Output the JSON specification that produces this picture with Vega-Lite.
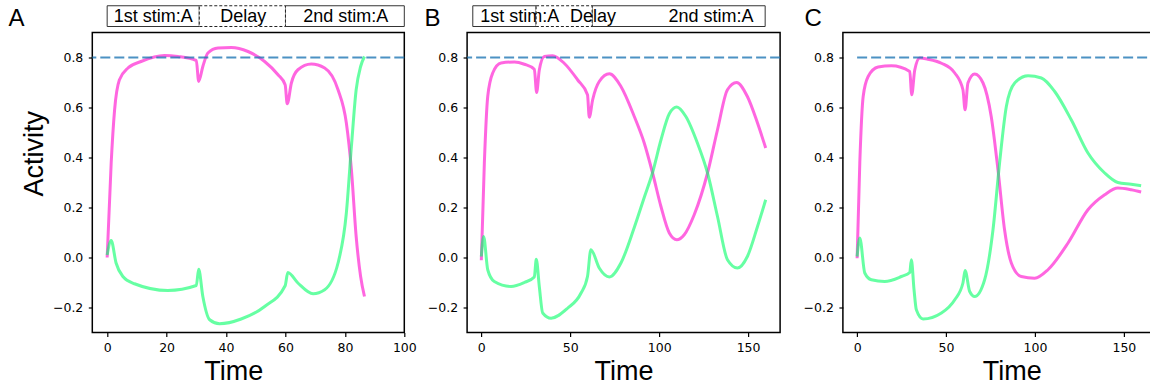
{
  "$schema": "https://vega.github.io/schema/vega-lite/v6.json",
  "padding": {"left": 7.3, "top": 4.5, "right": 0, "bottom": 0},
  "bounds": "flush",
  "spacing": 62.8,
  "config": {
    "view": {"stroke": "black", "strokeWidth": 1.5},
    "axis": {
      "grid": false, "domain": false, "tickColor": "black", "tickSize": 4, "tickWidth": 1.2,
      "labelFont": "DejaVu Sans", "labelFontSize": 12.5, "labelColor": "black", "labelPadding": 5.5,
      "labelFlush": false, "labelOverlap": false,
      "titleFont": "Liberation Sans", "titleFontSize": 27, "titleFontWeight": "normal", "titleColor": "black", "titlePadding": 4
    },
    "title": {"anchor": "start", "frame": "group", "baseline": "alphabetic", "fontSize": 24, "font": "Liberation Sans", "fontWeight": "normal", "color": "black"}
  },
  "datasets": {
    "threshold": [{"level": 0.8, "from": 0, "to": 168}],
    "A": [
      {"unit": "u1", "t": 0, "v": 0.0}, {"unit": "u1", "t": 1.35, "v": 0.377}, {"unit": "u1", "t": 2.5, "v": 0.59}, {"unit": "u1", "t": 4.1, "v": 0.71}, {"unit": "u1", "t": 7, "v": 0.758}, {"unit": "u1", "t": 11.4, "v": 0.784}, {"unit": "u1", "t": 19.3, "v": 0.808}, {"unit": "u1", "t": 23.8, "v": 0.804}, {"unit": "u1", "t": 30, "v": 0.788}, {"unit": "u1", "t": 30.8, "v": 0.704}, {"unit": "u1", "t": 32.2, "v": 0.764}, {"unit": "u1", "t": 33.9, "v": 0.818}, {"unit": "u1", "t": 37.3, "v": 0.838}, {"unit": "u1", "t": 41.8, "v": 0.84}, {"unit": "u1", "t": 47.4, "v": 0.824}, {"unit": "u1", "t": 53, "v": 0.784}, {"unit": "u1", "t": 57.5, "v": 0.731}, {"unit": "u1", "t": 59.9, "v": 0.691}, {"unit": "u1", "t": 60.6, "v": 0.615}, {"unit": "u1", "t": 62, "v": 0.698}, {"unit": "u1", "t": 64.2, "v": 0.751}, {"unit": "u1", "t": 68.7, "v": 0.774}, {"unit": "u1", "t": 73.2, "v": 0.758}, {"unit": "u1", "t": 77.7, "v": 0.671}, {"unit": "u1", "t": 80.5, "v": 0.538}, {"unit": "u1", "t": 82.2, "v": 0.351}, {"unit": "u1", "t": 83.8, "v": 0.084}, {"unit": "u1", "t": 85.3, "v": -0.076}, {"unit": "u1", "t": 86.6, "v": -0.156},
      {"unit": "u2", "t": 0, "v": 0.01}, {"unit": "u2", "t": 1.35, "v": 0.068}, {"unit": "u2", "t": 3, "v": -0.022}, {"unit": "u2", "t": 5.3, "v": -0.076}, {"unit": "u2", "t": 9.2, "v": -0.105}, {"unit": "u2", "t": 20.4, "v": -0.132}, {"unit": "u2", "t": 30, "v": -0.112}, {"unit": "u2", "t": 30.8, "v": -0.047}, {"unit": "u2", "t": 32.2, "v": -0.156}, {"unit": "u2", "t": 34.5, "v": -0.249}, {"unit": "u2", "t": 37.8, "v": -0.265}, {"unit": "u2", "t": 45.1, "v": -0.246}, {"unit": "u2", "t": 53, "v": -0.196}, {"unit": "u2", "t": 59.9, "v": -0.113}, {"unit": "u2", "t": 60.8, "v": -0.06}, {"unit": "u2", "t": 64.2, "v": -0.102}, {"unit": "u2", "t": 69.3, "v": -0.145}, {"unit": "u2", "t": 73.2, "v": -0.129}, {"unit": "u2", "t": 77.7, "v": -0.022}, {"unit": "u2", "t": 80.5, "v": 0.178}, {"unit": "u2", "t": 82.2, "v": 0.444}, {"unit": "u2", "t": 83.8, "v": 0.671}, {"unit": "u2", "t": 85.3, "v": 0.764}, {"unit": "u2", "t": 86.6, "v": 0.804}
    ],
    "B": [
      {"unit": "u1", "t": 0, "v": -0.011}, {"unit": "u1", "t": 1.7, "v": 0.378}, {"unit": "u1", "t": 3.6, "v": 0.644}, {"unit": "u1", "t": 6.4, "v": 0.738}, {"unit": "u1", "t": 11.1, "v": 0.778}, {"unit": "u1", "t": 18.6, "v": 0.782}, {"unit": "u1", "t": 24.2, "v": 0.773}, {"unit": "u1", "t": 29.8, "v": 0.753}, {"unit": "u1", "t": 31.1, "v": 0.66}, {"unit": "u1", "t": 32.6, "v": 0.75}, {"unit": "u1", "t": 35.4, "v": 0.804}, {"unit": "u1", "t": 40.1, "v": 0.807}, {"unit": "u1", "t": 46.6, "v": 0.777}, {"unit": "u1", "t": 54.1, "v": 0.711}, {"unit": "u1", "t": 59.7, "v": 0.651}, {"unit": "u1", "t": 60.7, "v": 0.561}, {"unit": "u1", "t": 62.6, "v": 0.631}, {"unit": "u1", "t": 66.3, "v": 0.704}, {"unit": "u1", "t": 72, "v": 0.735}, {"unit": "u1", "t": 78.5, "v": 0.684}, {"unit": "u1", "t": 86, "v": 0.564}, {"unit": "u1", "t": 91.6, "v": 0.458}, {"unit": "u1", "t": 96.3, "v": 0.338}, {"unit": "u1", "t": 101, "v": 0.204}, {"unit": "u1", "t": 105.7, "v": 0.098}, {"unit": "u1", "t": 109.9, "v": 0.071}, {"unit": "u1", "t": 114.1, "v": 0.091}, {"unit": "u1", "t": 119.7, "v": 0.171}, {"unit": "u1", "t": 127.2, "v": 0.338}, {"unit": "u1", "t": 132.8, "v": 0.511}, {"unit": "u1", "t": 138.4, "v": 0.671}, {"unit": "u1", "t": 143.5, "v": 0.7}, {"unit": "u1", "t": 149.6, "v": 0.644}, {"unit": "u1", "t": 155.3, "v": 0.538}, {"unit": "u1", "t": 159.9, "v": 0.438},
      {"unit": "u2", "t": 0, "v": 0.004}, {"unit": "u2", "t": 1.3, "v": 0.084}, {"unit": "u2", "t": 3.6, "v": -0.049}, {"unit": "u2", "t": 7.3, "v": -0.096}, {"unit": "u2", "t": 16.7, "v": -0.116}, {"unit": "u2", "t": 24.2, "v": -0.1}, {"unit": "u2", "t": 29.8, "v": -0.078}, {"unit": "u2", "t": 30.9, "v": -0.007}, {"unit": "u2", "t": 32.6, "v": -0.116}, {"unit": "u2", "t": 34.5, "v": -0.222}, {"unit": "u2", "t": 39.2, "v": -0.243}, {"unit": "u2", "t": 48.5, "v": -0.203}, {"unit": "u2", "t": 56, "v": -0.143}, {"unit": "u2", "t": 59.7, "v": -0.076}, {"unit": "u2", "t": 61.6, "v": 0.031}, {"unit": "u2", "t": 66.3, "v": -0.042}, {"unit": "u2", "t": 72, "v": -0.078}, {"unit": "u2", "t": 78.5, "v": -0.022}, {"unit": "u2", "t": 86, "v": 0.12}, {"unit": "u2", "t": 91.6, "v": 0.24}, {"unit": "u2", "t": 96.3, "v": 0.34}, {"unit": "u2", "t": 101, "v": 0.47}, {"unit": "u2", "t": 105.7, "v": 0.575}, {"unit": "u2", "t": 109.9, "v": 0.602}, {"unit": "u2", "t": 115, "v": 0.564}, {"unit": "u2", "t": 121.5, "v": 0.458}, {"unit": "u2", "t": 127.2, "v": 0.338}, {"unit": "u2", "t": 132.8, "v": 0.164}, {"unit": "u2", "t": 138.4, "v": -0.009}, {"unit": "u2", "t": 144, "v": -0.042}, {"unit": "u2", "t": 149.6, "v": 0.004}, {"unit": "u2", "t": 155.3, "v": 0.124}, {"unit": "u2", "t": 159.9, "v": 0.231}
    ],
    "C": [
      {"unit": "u1", "t": 0, "v": -0.003}, {"unit": "u1", "t": 1.5, "v": 0.378}, {"unit": "u1", "t": 3.4, "v": 0.644}, {"unit": "u1", "t": 6.2, "v": 0.724}, {"unit": "u1", "t": 11.8, "v": 0.762}, {"unit": "u1", "t": 19.3, "v": 0.767}, {"unit": "u1", "t": 29.6, "v": 0.744}, {"unit": "u1", "t": 30.7, "v": 0.651}, {"unit": "u1", "t": 32.4, "v": 0.75}, {"unit": "u1", "t": 35.2, "v": 0.798}, {"unit": "u1", "t": 39.9, "v": 0.793}, {"unit": "u1", "t": 47.4, "v": 0.777}, {"unit": "u1", "t": 54.9, "v": 0.738}, {"unit": "u1", "t": 59.5, "v": 0.671}, {"unit": "u1", "t": 60.7, "v": 0.591}, {"unit": "u1", "t": 62.3, "v": 0.698}, {"unit": "u1", "t": 66.1, "v": 0.734}, {"unit": "u1", "t": 70.8, "v": 0.698}, {"unit": "u1", "t": 75.4, "v": 0.564}, {"unit": "u1", "t": 79.2, "v": 0.351}, {"unit": "u1", "t": 82.9, "v": 0.111}, {"unit": "u1", "t": 86.7, "v": -0.022}, {"unit": "u1", "t": 92.3, "v": -0.076}, {"unit": "u1", "t": 99.8, "v": -0.083}, {"unit": "u1", "t": 107.3, "v": -0.049}, {"unit": "u1", "t": 118.6, "v": 0.058}, {"unit": "u1", "t": 129.8, "v": 0.191}, {"unit": "u1", "t": 139.2, "v": 0.251}, {"unit": "u1", "t": 146.6, "v": 0.278}, {"unit": "u1", "t": 154.1, "v": 0.271}, {"unit": "u1", "t": 159.7, "v": 0.262},
      {"unit": "u2", "t": 0, "v": 0.004}, {"unit": "u2", "t": 1.5, "v": 0.078}, {"unit": "u2", "t": 4.3, "v": -0.062}, {"unit": "u2", "t": 8, "v": -0.089}, {"unit": "u2", "t": 15.5, "v": -0.096}, {"unit": "u2", "t": 24.9, "v": -0.076}, {"unit": "u2", "t": 29.6, "v": -0.06}, {"unit": "u2", "t": 30.5, "v": -0.009}, {"unit": "u2", "t": 32, "v": -0.129}, {"unit": "u2", "t": 33.3, "v": -0.209}, {"unit": "u2", "t": 37.1, "v": -0.246}, {"unit": "u2", "t": 47.4, "v": -0.222}, {"unit": "u2", "t": 54.9, "v": -0.169}, {"unit": "u2", "t": 59.5, "v": -0.102}, {"unit": "u2", "t": 60.7, "v": -0.052}, {"unit": "u2", "t": 63.3, "v": -0.136}, {"unit": "u2", "t": 66.1, "v": -0.156}, {"unit": "u2", "t": 71.7, "v": -0.089}, {"unit": "u2", "t": 76.4, "v": 0.111}, {"unit": "u2", "t": 80.1, "v": 0.378}, {"unit": "u2", "t": 83.9, "v": 0.604}, {"unit": "u2", "t": 88.6, "v": 0.698}, {"unit": "u2", "t": 96.1, "v": 0.727}, {"unit": "u2", "t": 103.6, "v": 0.718}, {"unit": "u2", "t": 111.1, "v": 0.664}, {"unit": "u2", "t": 120.4, "v": 0.551}, {"unit": "u2", "t": 129.8, "v": 0.418}, {"unit": "u2", "t": 139.2, "v": 0.338}, {"unit": "u2", "t": 146.6, "v": 0.3}, {"unit": "u2", "t": 154.1, "v": 0.293}, {"unit": "u2", "t": 159.7, "v": 0.287}
    ],
    "phasesA": [
      {"start": 0, "end": 31, "mid": 15.5, "kind": "stim", "label": "1st stim:A"},
      {"start": 31, "end": 60, "mid": 45.8, "kind": "delay", "label": "Delay"},
      {"start": 60, "end": 100, "mid": 80.3, "kind": "stim", "label": "2nd stim:A"}
    ],
    "phasesB": [
      {"start": -4.8, "end": 30.8, "mid": 21.6, "kind": "stim", "label": "1st stim:A"},
      {"start": 30.8, "end": 62.3, "mid": 62.8, "kind": "delay", "label": "Delay"},
      {"start": 62.3, "end": 159.6, "mid": 129.2, "kind": "stim", "label": "2nd stim:A"}
    ]
  },
  "hconcat": [
    {
      "width": 312, "height": 300,
      "title": {"text": "A", "dx": -83.7, "offset": -25.25},
      "layer": [
        {
          "data": {"name": "A"},
          "mark": {"type": "line", "interpolate": "monotone", "strokeWidth": 3, "opacity": 0.6},
          "encoding": {
            "x": {"field": "t", "type": "quantitative", "title": "Time", "scale": {"domain": [-5, 100], "nice": false, "zero": false}, "axis": {"values": [0, 20, 40, 60, 80, 100], "format": "d", "titleX": 141}},
            "y": {"field": "v", "type": "quantitative", "title": "Activity", "scale": {"domain": [-0.3, 0.9], "nice": false, "zero": false}, "axis": {"values": [-0.2, 0, 0.2, 0.4, 0.6, 0.8], "format": ".1f", "titleY": 120.8}},
            "color": {"field": "unit", "type": "nominal", "scale": {"domain": ["u2", "u1"], "range": ["#00ff66", "#ff00cc"]}, "legend": null},
            "order": {"field": "t", "type": "quantitative"}
          }
        },
        {
          "data": {"name": "threshold"},
          "mark": {"type": "rule", "strokeDash": [10, 4], "strokeWidth": 2, "color": "#1f77b4", "opacity": 0.8},
          "encoding": {"y": {"field": "level", "type": "quantitative", "title": "Activity", "scale": {"domain": [-0.3, 0.9], "nice": false, "zero": false}}}
        },
        {
          "data": {"name": "phasesA"},
          "transform": [{"filter": "datum.kind === 'stim'"}],
          "mark": {"type": "rect", "fill": "white", "stroke": "#333333", "strokeWidth": 1},
          "encoding": {
            "x": {"field": "start", "type": "quantitative", "title": "Time", "scale": {"domain": [-5, 100], "nice": false, "zero": false}},
            "x2": {"field": "end"},
            "y": {"datum": 0.924, "type": "quantitative", "title": "Activity", "scale": {"domain": [-0.3, 0.9], "nice": false, "zero": false}},
            "y2": {"datum": 1.007}
          }
        },
        {
          "data": {"name": "phasesA"},
          "transform": [{"filter": "datum.kind === 'delay'"}],
          "mark": {"type": "rect", "fill": "white", "stroke": "#222222", "strokeWidth": 1, "strokeDash": [3, 2]},
          "encoding": {
            "x": {"field": "start", "type": "quantitative", "title": "Time", "scale": {"domain": [-5, 100], "nice": false, "zero": false}},
            "x2": {"field": "end"},
            "y": {"datum": 0.924, "type": "quantitative", "title": "Activity", "scale": {"domain": [-0.3, 0.9], "nice": false, "zero": false}},
            "y2": {"datum": 1.007}
          }
        },
        {
          "data": {"name": "phasesA"},
          "mark": {"type": "text", "font": "Liberation Sans", "fontSize": 18, "baseline": "alphabetic", "align": "center", "color": "black"},
          "encoding": {
            "x": {"field": "mid", "type": "quantitative", "title": "Time", "scale": {"domain": [-5, 100], "nice": false, "zero": false}},
            "y": {"datum": 0.944, "type": "quantitative", "title": "Activity", "scale": {"domain": [-0.3, 0.9], "nice": false, "zero": false}},
            "text": {"field": "label"}
          }
        }
      ]
    },
    {
      "width": 313, "height": 300,
      "title": {"text": "B", "dx": -42.7, "offset": -25.25},
      "layer": [
        {
          "data": {"name": "B"},
          "mark": {"type": "line", "interpolate": "monotone", "strokeWidth": 3, "opacity": 0.6},
          "encoding": {
            "x": {"field": "t", "type": "quantitative", "title": "Time", "scale": {"domain": [-8, 168], "nice": false, "zero": false}, "axis": {"values": [0, 50, 100, 150], "format": "d"}},
            "y": {"field": "v", "type": "quantitative", "title": null, "scale": {"domain": [-0.3, 0.9], "nice": false, "zero": false}, "axis": {"values": [-0.2, 0, 0.2, 0.4, 0.6, 0.8], "format": ".1f"}},
            "color": {"field": "unit", "type": "nominal", "scale": {"domain": ["u2", "u1"], "range": ["#00ff66", "#ff00cc"]}, "legend": null},
            "order": {"field": "t", "type": "quantitative"}
          }
        },
        {
          "data": {"name": "threshold"},
          "mark": {"type": "rule", "strokeDash": [10, 4], "strokeWidth": 2, "color": "#1f77b4", "opacity": 0.8},
          "encoding": {"y": {"field": "level", "type": "quantitative", "title": null, "scale": {"domain": [-0.3, 0.9], "nice": false, "zero": false}}}
        },
        {
          "data": {"name": "phasesB"},
          "transform": [{"filter": "datum.kind === 'stim'"}],
          "mark": {"type": "rect", "fill": "white", "stroke": "#333333", "strokeWidth": 1},
          "encoding": {
            "x": {"field": "start", "type": "quantitative", "title": "Time", "scale": {"domain": [-8, 168], "nice": false, "zero": false}},
            "x2": {"field": "end"},
            "y": {"datum": 0.924, "type": "quantitative", "title": null, "scale": {"domain": [-0.3, 0.9], "nice": false, "zero": false}},
            "y2": {"datum": 1.007}
          }
        },
        {
          "data": {"name": "phasesB"},
          "transform": [{"filter": "datum.kind === 'delay'"}],
          "mark": {"type": "rect", "fill": "white", "stroke": "#222222", "strokeWidth": 1, "strokeDash": [3, 2]},
          "encoding": {
            "x": {"field": "start", "type": "quantitative", "title": "Time", "scale": {"domain": [-8, 168], "nice": false, "zero": false}},
            "x2": {"field": "end"},
            "y": {"datum": 0.924, "type": "quantitative", "title": null, "scale": {"domain": [-0.3, 0.9], "nice": false, "zero": false}},
            "y2": {"datum": 1.007}
          }
        },
        {
          "data": {"name": "phasesB"},
          "mark": {"type": "text", "font": "Liberation Sans", "fontSize": 18, "baseline": "alphabetic", "align": "center", "color": "black"},
          "encoding": {
            "x": {"field": "mid", "type": "quantitative", "title": "Time", "scale": {"domain": [-8, 168], "nice": false, "zero": false}},
            "y": {"datum": 0.944, "type": "quantitative", "title": null, "scale": {"domain": [-0.3, 0.9], "nice": false, "zero": false}},
            "text": {"field": "label"}
          }
        }
      ]
    },
    {
      "width": 313, "height": 300,
      "title": {"text": "C", "dx": -38.4, "offset": 2},
      "layer": [
        {
          "data": {"name": "C"},
          "mark": {"type": "line", "interpolate": "monotone", "strokeWidth": 3, "opacity": 0.6},
          "encoding": {
            "x": {"field": "t", "type": "quantitative", "title": "Time", "scale": {"domain": [-8, 168], "nice": false, "zero": false}, "axis": {"values": [0, 50, 100, 150], "format": "d", "titleX": 168.8}},
            "y": {"field": "v", "type": "quantitative", "title": null, "scale": {"domain": [-0.3, 0.9], "nice": false, "zero": false}, "axis": {"values": [-0.2, 0, 0.2, 0.4, 0.6, 0.8], "format": ".1f"}},
            "color": {"field": "unit", "type": "nominal", "scale": {"domain": ["u2", "u1"], "range": ["#00ff66", "#ff00cc"]}, "legend": null},
            "order": {"field": "t", "type": "quantitative"}
          }
        },
        {
          "data": {"name": "threshold"},
          "mark": {"type": "rule", "strokeDash": [10, 4], "strokeWidth": 2, "color": "#1f77b4", "opacity": 0.8},
          "encoding": {
            "x": {"field": "from", "type": "quantitative", "title": "Time", "scale": {"domain": [-8, 168], "nice": false, "zero": false}},
            "x2": {"field": "to"},
            "y": {"field": "level", "type": "quantitative", "title": null, "scale": {"domain": [-0.3, 0.9], "nice": false, "zero": false}}
          }
        }
      ]
    }
  ]
}
